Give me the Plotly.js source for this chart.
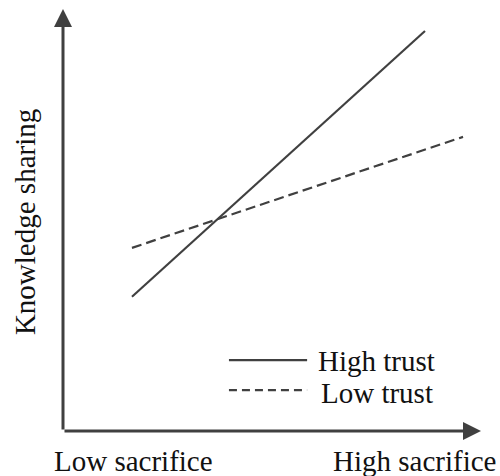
<!DOCTYPE html>
<html>
<head>
<meta charset="utf-8">
<script src="https://cdn.plot.ly/plotly-3.0.1.min.js"></script>
<style>html,body{margin:0;padding:0;background:#fff;}#chart{width:500px;height:476px;}</style>
</head>
<body>
<div id="chart"></div>
<script>
// Data (arbitrary units on a 0-100 scale)
const seriesNames = ["High trust", "Low trust"];
const highTrustX = [16.5, 86.6];
const highTrustY = [31.8, 94.8];
const lowTrustX = [16.5, 95.7];
const lowTrustY = [43.4, 69.7];
const xLabels = ["Low sacrifice", "High sacrifice"];
const yLabel = "Knowledge sharing";

const ink = "#404040";
const font = {family: "Liberation Serif", size: 29, color: "#111"};

const traces = [
  {x: highTrustX, y: highTrustY, mode: "lines", name: seriesNames[0],
   line: {color: ink, width: 2.2}, showlegend: false, hoverinfo: "skip"},
  {x: lowTrustX, y: lowTrustY, mode: "lines", name: seriesNames[1],
   line: {color: ink, width: 2.2, dash: "10px,5px"}, showlegend: false, hoverinfo: "skip"}
];

const axisCommon = {range: [0, 100], showgrid: false, zeroline: false, showline: false,
  showticklabels: false, ticks: "", fixedrange: true};

const layout = {
  width: 500, height: 476,
  font: {family: "Liberation Serif"},
  margin: {l: 63, r: 19, t: 9, b: 45},
  paper_bgcolor: "#fff", plot_bgcolor: "#fff",
  showlegend: false,
  xaxis: axisCommon,
  yaxis: axisCommon,
  shapes: [
    {type: "line", xref: "paper", yref: "paper", x0: 0.397, x1: 0.584, y0: 0.168, y1: 0.168,
     line: {color: ink, width: 2.2}},
    {type: "line", xref: "paper", yref: "paper", x0: 0.397, x1: 0.584, y0: 0.097, y1: 0.097,
     line: {color: ink, width: 2.2, dash: "8px,5px"}}
  ],
  annotations: [
    // axes with arrowheads
    {x: 0, y: 100, ax: 0, ay: 0, xref: "x", yref: "y", axref: "x", ayref: "y",
     showarrow: true, arrowhead: 2, arrowsize: 1.2, arrowwidth: 3, arrowcolor: ink, text: ""},
    {x: 100, y: 0, ax: 0, ay: 0, xref: "x", yref: "y", axref: "x", ayref: "y",
     showarrow: true, arrowhead: 2, arrowsize: 1.2, arrowwidth: 3, arrowcolor: ink, text: ""},
    // axis labels
    {text: xLabels[0], xref: "paper", yref: "paper", x: 0.1675, y: -0.071,
     xanchor: "center", yanchor: "middle", showarrow: false, font: font},
    {text: xLabels[1], xref: "paper", yref: "paper", x: 0.842, y: -0.071,
     xanchor: "center", yanchor: "middle", showarrow: false, font: font},
    {text: yLabel, xref: "paper", yref: "paper", x: -0.091, y: 0.495, textangle: -90,
     xanchor: "center", yanchor: "middle", showarrow: false, font: font},
    // legend text
    {text: seriesNames[0], xref: "paper", yref: "paper", x: 0.606, y: 0.166,
     xanchor: "left", yanchor: "middle", showarrow: false, font: font},
    {text: seriesNames[1], xref: "paper", yref: "paper", x: 0.613, y: 0.090,
     xanchor: "left", yanchor: "middle", showarrow: false, font: font}
  ]
};

Plotly.newPlot("chart", traces, layout, {staticPlot: true, displayModeBar: false});
</script>
</body>
</html>
